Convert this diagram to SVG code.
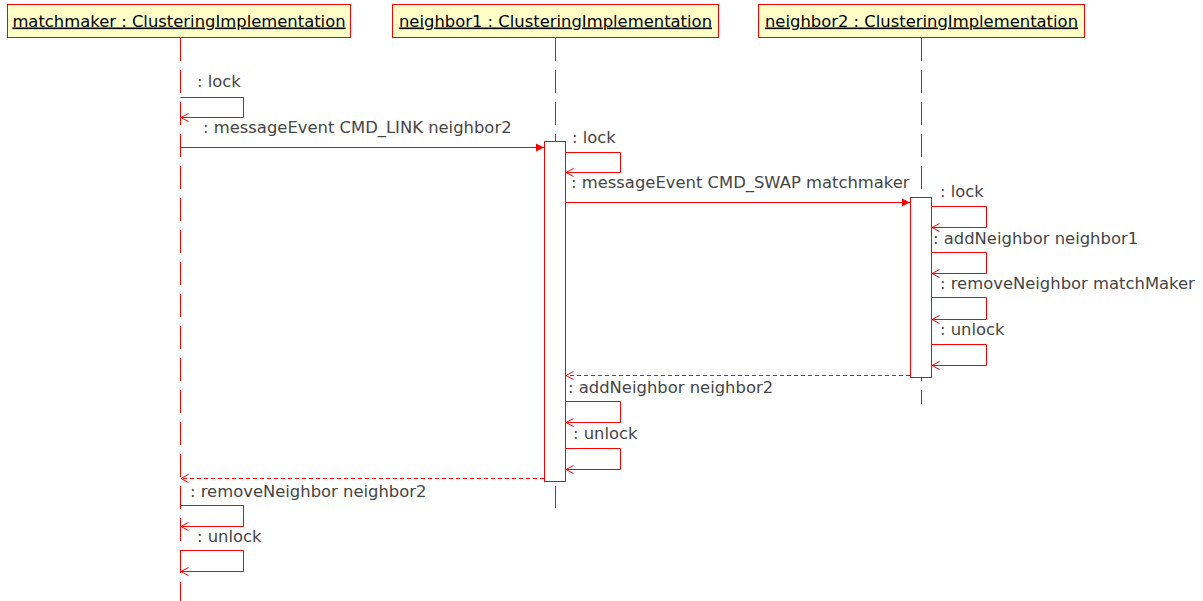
<svg xmlns="http://www.w3.org/2000/svg" width="1203" height="601" viewBox="0 0 1203 601">
  <style>
    .head rect { fill: #ffffc8; stroke: #ff0000; stroke-width: 1; }
    .head text { font-family: "DejaVu Sans", sans-serif; font-size: 16.4px; fill: #000000; text-anchor: middle; text-decoration: underline; }
    .life { stroke: #ff0000; stroke-width: 1; stroke-dasharray: 23 9; fill: none; }
    .bar { fill: #ffffff; stroke: #ff0000; stroke-width: 1; }
    .msg { stroke: #ff0000; stroke-width: 1; fill: none; }
    .ret { stroke: #ff0000; stroke-width: 1; fill: none; stroke-dasharray: 4 3; }
    .lbl { font-family: "DejaVu Sans", sans-serif; font-size: 16.4px; fill: #454545; }
  </style>
  <defs>
    <marker id="filled" markerWidth="10" markerHeight="10" refX="8" refY="4.5" orient="auto" markerUnits="userSpaceOnUse">
      <path d="M0,0.5 L8,4.5 L0,8.5 Z" fill="#ff0000"/>
    </marker>
    <marker id="open" markerWidth="10" markerHeight="10" refX="8" refY="4.5" orient="auto" markerUnits="userSpaceOnUse">
      <path d="M0.5,0.5 L8,4.5 L0.5,8.5" fill="none" stroke="#ff0000" stroke-width="1"/>
    </marker>
  </defs>

  <!-- lifelines -->
  <g id="lifelines">
    <line class="life" x1="180.5" y1="38" x2="180.5" y2="601"/>
    <line class="life" x1="555.5" y1="38" x2="555.5" y2="508"/>
    <line class="life" x1="921.5" y1="38" x2="921.5" y2="404"/>
  </g>

  <!-- participants -->
  <g id="matchmaker" class="head">
    <rect x="7.5" y="4.5" width="343" height="33"/>
    <text x="179" y="26.5">matchmaker : ClusteringImplementation</text>
  </g>
  <g id="neighbor1" class="head">
    <rect x="392.5" y="4.5" width="326" height="33"/>
    <text x="555.5" y="26.5">neighbor1 : ClusteringImplementation</text>
  </g>
  <g id="neighbor2" class="head">
    <rect x="758.5" y="4.5" width="326" height="33"/>
    <text x="921.5" y="26.5">neighbor2 : ClusteringImplementation</text>
  </g>

  <!-- activation bars -->
  <g id="activation-neighbor1">
    <rect class="bar" x="544.5" y="141.5" width="21" height="340"/>
  </g>
  <g id="activation-neighbor2">
    <rect class="bar" x="910.5" y="197.5" width="21" height="180"/>
  </g>

  <!-- messages -->
  <g id="connectors">
    <!-- matchmaker -->
    <polyline class="msg" points="180.5,97.5 243.5,97.5 243.5,117.5 181,117.5" marker-end="url(#open)"/>
    <line class="msg" x1="180.5" y1="147.5" x2="544" y2="147.5" marker-end="url(#filled)"/>
    <!-- neighbor1 -->
    <polyline class="msg" points="565.5,152.5 620.5,152.5 620.5,172.5 566,172.5" marker-end="url(#open)"/>
    <line class="msg" x1="565.5" y1="202.5" x2="910" y2="202.5" marker-end="url(#filled)"/>
    <!-- neighbor2 -->
    <polyline class="msg" points="931.5,206.5 986.5,206.5 986.5,227.5 932,227.5" marker-end="url(#open)"/>
    <polyline class="msg" points="931.5,252.5 986.5,252.5 986.5,273.5 932,273.5" marker-end="url(#open)"/>
    <polyline class="msg" points="931.5,297.5 986.5,297.5 986.5,319.5 932,319.5" marker-end="url(#open)"/>
    <polyline class="msg" points="931.5,344.5 986.5,344.5 986.5,365.5 932,365.5" marker-end="url(#open)"/>
    <line class="ret" x1="910" y1="375.5" x2="566" y2="375.5" marker-end="url(#open)"/>
    <!-- neighbor1 again -->
    <polyline class="msg" points="565.5,401.5 620.5,401.5 620.5,422.5 566,422.5" marker-end="url(#open)"/>
    <polyline class="msg" points="565.5,448.5 620.5,448.5 620.5,469.5 566,469.5" marker-end="url(#open)"/>
    <line class="ret" x1="544" y1="478.5" x2="181" y2="478.5" marker-end="url(#open)"/>
    <!-- matchmaker again -->
    <polyline class="msg" points="180.5,505.5 243.5,505.5 243.5,526.5 181,526.5" marker-end="url(#open)"/>
    <polyline class="msg" points="180.5,550.5 243.5,550.5 243.5,571.5 181,571.5" marker-end="url(#open)"/>
  </g>

  <!-- message labels -->
  <g id="labels" class="lbl">
    <text x="197" y="87">: lock</text>
    <text x="203" y="133">: messageEvent CMD_LINK neighbor2</text>
    <text x="572" y="143">: lock</text>
    <text x="571" y="188">: messageEvent CMD_SWAP matchmaker</text>
    <text x="940" y="197">: lock</text>
    <text x="933" y="244">: addNeighbor neighbor1</text>
    <text x="940" y="289">: removeNeighbor matchMaker</text>
    <text x="940" y="335">: unlock</text>
    <text x="568" y="393">: addNeighbor neighbor2</text>
    <text x="573" y="439">: unlock</text>
    <text x="190" y="497">: removeNeighbor neighbor2</text>
    <text x="197" y="542">: unlock</text>
  </g>
</svg>
